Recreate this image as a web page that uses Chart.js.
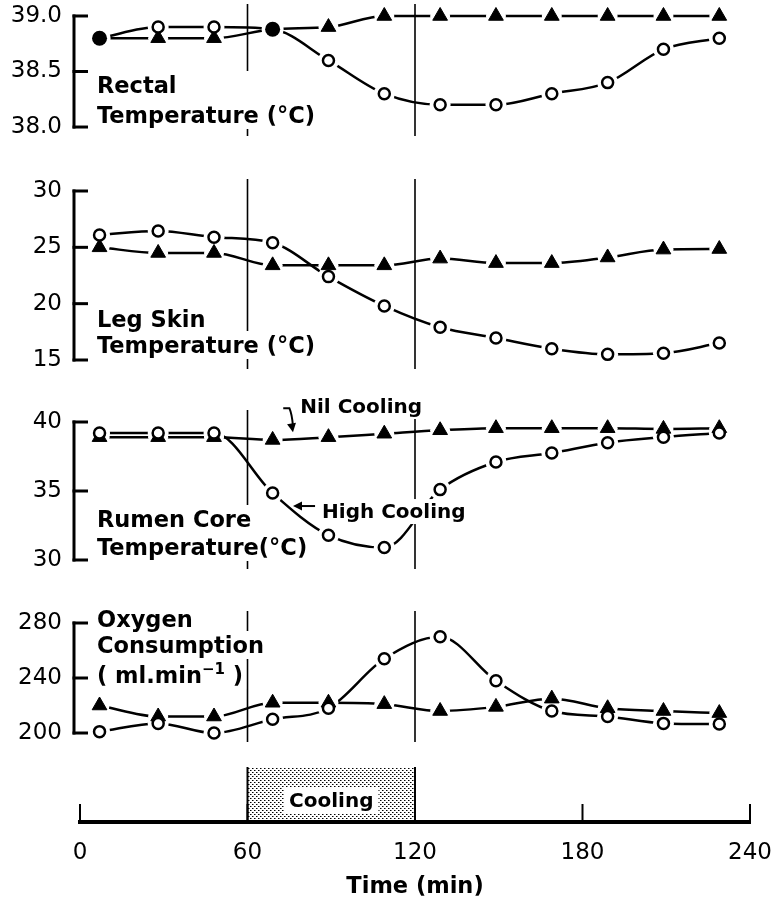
<!DOCTYPE html>
<html>
<head>
<meta charset="utf-8">
<title>Cooling responses</title>
<script src="https://cdn.jsdelivr.net/npm/chart.js@4.4.1/dist/chart.umd.min.js"></script>
<style>
html,body{margin:0;padding:0;background:#fff;}
canvas{display:block;}
</style>
</head>
<body>
<canvas id="c" width="778" height="901"></canvas>
<script>
// ---------------- data ----------------
const timeMin       = [7, 28, 48, 69, 89, 109, 129, 149, 169, 189, 209, 229];
const coolingPeriod = [60, 120];
const timeTicks     = ['0', '60', '120', '180', '240'];

const rectalNil   = [38.8, 38.8, 38.8, 38.88, 38.9, 39.0, 39.0, 39.0, 39.0, 39.0, 39.0, 39.0];
const rectalHigh  = [38.8, 38.9, 38.9, 38.88, 38.6, 38.3, 38.2, 38.2, 38.3, 38.4, 38.7, 38.8];
const rectalTicks = ['38.0', '38.5', '39.0'];

const legNil   = [25.0, 24.5, 24.5, 23.4, 23.4, 23.4, 24.0, 23.6, 23.6, 24.1, 24.8, 24.85];
const legHigh  = [26.1, 26.45, 25.9, 25.4, 22.4, 19.8, 17.9, 16.95, 16.0, 15.5, 15.6, 16.5];
const legTicks = ['15', '20', '25', '30'];

const rumenNil   = [38.9, 38.9, 38.9, 38.7, 38.9, 39.15, 39.4, 39.55, 39.55, 39.55, 39.5, 39.55];
const rumenHigh  = [39.2, 39.2, 39.2, 34.85, 31.8, 30.9, 35.1, 37.1, 37.75, 38.5, 38.9, 39.2];
const rumenTicks = ['30', '35', '40'];

const oxygenNil   = [220, 212, 212, 222, 222, 221, 216, 219, 225, 218, 216, 214.5];
const oxygenHigh  = [201, 207, 200, 210, 218, 254, 270, 238, 216, 212, 207, 206.5];
const oxygenTicks = ['200', '240', '280'];

// ---------------- layout / options ----------------
const FAM = 'DejaVu Sans';
const LABEL_SIZE = 22.5;
const fnt = (size, bold) => (bold ? 'bold ' : '') + size + 'px "' + FAM + '"';
Chart.defaults.font.family = FAM;
Chart.defaults.color = '#000';

const panels = [
  {id: 'yR', nil: rectalNil, high: rectalHigh, ticks: rectalTicks, min: 37.703, max: 39.144, weight: 160,
   labels: [['Rectal'], ['Temperature (°C)']], dy: [77, 107], block: true},
  {id: 'yL', nil: legNil, high: legHigh, ticks: legTicks, min: 12.781, max: 32.751, weight: 225,
   labels: [['Leg Skin'], ['Temperature (°C)']], dy: [136, 162]},
  {id: 'yU', nil: rumenNil, high: rumenHigh, ticks: rumenTicks, min: 28.188, max: 42.681, weight: 200,
   labels: [['Rumen Core'], ['Temperature(°C)']], dy: [105, 133]},
  {id: 'yO', nil: oxygenNil, high: oxygenHigh, ticks: oxygenTicks, min: 182.55, max: 307.64, weight: 172,
   labels: [['Oxygen'], ['Consumption'], ['( ml.min', '\u22121', ' )']], dy: [4, 30, 60]}
];

const pts = vals => timeMin.map((t, i) => ({x: t, y: vals[i]}));

function panelDatasets(p) {
  const same = p.nil.map((v, i) => Math.abs(v - p.high[i]) < 1e-9);
  const hi = pts(p.high), ni = pts(p.nil);
  const base = {yAxisID: p.id, xAxisID: 'x', clip: false, fill: false};
  return [
    // markers
    {...base, data: hi, order: 0, showLine: false, pointStyle: 'circle',
     pointRadius: same.map(s => s ? 7.5 : 5.5), pointBorderWidth: same.map(s => s ? 0 : 2.5),
     pointBackgroundColor: same.map(s => s ? '#000' : '#fff'), pointBorderColor: '#000'},
    {...base, data: ni, order: 0, showLine: false, pointStyle: 'triangle',
     pointRadius: same.map(s => s ? 0 : 8.5), pointBorderWidth: 1,
     pointBackgroundColor: '#000', pointBorderColor: '#000'},
    // white halos that break the lines around markers
    {...base, data: hi, order: 1, showLine: false, pointStyle: 'circle',
     pointRadius: same.map(s => s ? 11 : 10.5), pointBorderWidth: 0, pointBackgroundColor: '#fff'},
    {...base, data: ni, order: 1, showLine: false, pointStyle: 'circle',
     pointRadius: same.map(s => s ? 0 : 10), pointBorderWidth: 0, pointBackgroundColor: '#fff'},
    // curves
    {...base, data: hi, order: 2, pointRadius: 0, borderColor: '#000', borderWidth: 2.5,
     cubicInterpolationMode: 'monotone'},
    {...base, data: ni, order: 2, pointRadius: 0, borderColor: '#000', borderWidth: 2.5,
     cubicInterpolationMode: 'monotone'}
  ];
}

const canvas = document.getElementById('c');
const ctx = canvas.getContext('2d');

// stipple pattern for the cooling period bar
const pc = document.createElement('canvas');
pc.width = 4; pc.height = 4;
const pctx = pc.getContext('2d');
pctx.fillStyle = '#000';
pctx.fillRect(0, 0, 1, 1);
pctx.fillRect(2, 2, 1, 1);
pctx.fillStyle = 'rgba(0,0,0,0.5)';
pctx.fillRect(1, 0, 1, 1);
pctx.fillRect(3, 2, 1, 1);
const stipple = ctx.createPattern(pc, 'repeat');

const datasets = [];
panels.forEach(p => datasets.push(...panelDatasets(p)));
datasets.push({
  data: coolingPeriod.map(t => ({x: t, y: 1})), yAxisID: 'yC', xAxisID: 'x', order: 3,
  borderWidth: 0, pointRadius: 0, fill: 'origin', backgroundColor: stipple, tension: 0, clip: false
});

function yAxis(id, min, max, weight, tickLabels) {
  return {
    type: 'linear', position: 'left', stack: 'panels', stackWeight: weight, min: min, max: max,
    grid: {display: false, drawTicks: false}, border: {display: false},
    afterBuildTicks: s => { s.ticks = (tickLabels || []).map(v => ({value: Number(v)})); },
    ticks: {display: !!tickLabels, font: {family: FAM, size: 23}, color: '#000', padding: 18, autoSkip: false,
            callback: v => { const l = (tickLabels || []).find(t => Number(t) === v); return l === undefined ? '' : l; }},
    afterFit: s => { s.width = 80; s.paddingTop = 0; s.paddingBottom = 0; }
  };
}

// left boxes in a stack are placed top-down from the last defined one
const scales = {
  x: {
    type: 'linear', position: 'bottom', min: 0, max: 240,
    grid: {display: false, drawTicks: false}, border: {display: true, width: 4, color: '#000'},
    afterBuildTicks: s => { s.ticks = timeTicks.map(v => ({value: Number(v)})); },
    ticks: {font: {family: FAM, size: 23}, color: '#000', padding: 17, maxRotation: 0, autoSkip: false,
            callback: v => { const l = timeTicks.find(t => Number(t) === v); return l === undefined ? '' : l; }},
    title: {display: true, text: 'Time (min)', color: '#000', font: {family: FAM, size: 22.5, weight: 'bold'},
            padding: {top: 4, bottom: 0}},
    afterFit: s => { s.height = 79; s.paddingLeft = 0; s.paddingRight = 0; }
  },
  yC: yAxis('yC', 0, 1.204, 65, null)
};
[...panels].reverse().forEach(p => { scales[p.id] = yAxis(p.id, p.min, p.max, p.weight, p.ticks); });

function partsWidth(c, parts) {
  let w = 0;
  parts.forEach((t, i) => { c.font = i % 2 ? fnt(15, true) : fnt(LABEL_SIZE, true); w += c.measureText(t).width; });
  return w;
}
function drawParts(c, parts, x, y) {
  parts.forEach((t, i) => {
    c.font = i % 2 ? fnt(15, true) : fnt(LABEL_SIZE, true);
    c.fillText(t, x, i % 2 ? y - 9 : y);
    x += c.measureText(t).width;
  });
}
function arrowHead(c, x, y, ang, len, half) {
  c.save(); c.translate(x, y); c.rotate(ang);
  c.beginPath(); c.moveTo(0, 0); c.lineTo(-len, -half); c.lineTo(-len, half); c.closePath(); c.fill();
  c.restore();
}
function textBox(c, text, x, base, size) {
  c.font = fnt(size, true);
  const w = c.measureText(text).width;
  c.fillStyle = '#fff';
  c.fillRect(x - 3, base - size + 1, w + 6, size + 5);
  c.fillStyle = '#000';
  c.fillText(text, x, base);
}

const decor = {
  id: 'decor',
  beforeDatasetsDraw(chart) {
    const {ctx: c, scales: sc} = chart;
    const xs = sc.x;
    c.save();
    c.strokeStyle = '#000';
    c.lineWidth = 1.6;
    for (const p of panels) {
      const s = sc[p.id];
      const v = p.ticks.map(Number);
      const y1 = s.getPixelForValue(Math.max(...v)) - 12;
      const y2 = s.getPixelForValue(Math.min(...v)) + 9;
      for (const t of coolingPeriod) {
        const x = xs.getPixelForValue(t);
        c.beginPath(); c.moveTo(x, y1); c.lineTo(x, y2); c.stroke();
      }
    }
    c.restore();
  },
  afterDatasetsDraw(chart) {
    const {ctx: c, scales: sc, chartArea: ca} = chart;
    const xs = sc.x;
    c.save();
    c.fillStyle = '#000'; c.strokeStyle = '#000'; c.lineCap = 'butt';

    // axis brackets
    for (const p of panels) {
      const s = sc[p.id];
      const v = p.ticks.map(Number);
      const bx = ca.left - 6;
      const yTop = s.getPixelForValue(Math.max(...v));
      const yBot = s.getPixelForValue(Math.min(...v));
      c.lineWidth = 3;
      c.beginPath(); c.moveTo(bx, yTop - 1.5); c.lineTo(bx, yBot + 1.5); c.stroke();
      for (const val of v) {
        const y = s.getPixelForValue(val);
        c.beginPath(); c.moveTo(bx - 1.5, y); c.lineTo(bx + 14, y); c.stroke();
      }
    }

    // panel titles with white backing (they interrupt the 60-min line)
    c.textAlign = 'left'; c.textBaseline = 'alphabetic';
    for (const p of panels) {
      const s = sc[p.id];
      const yRef = s.getPixelForValue(Math.max(...p.ticks.map(Number)));
      const x0 = ca.left + 17;
      const lines = p.labels.map((parts, i) => ({parts, base: yRef + p.dy[i], w: partsWidth(c, parts)}));
      c.fillStyle = '#fff';
      if (p.block) {
        const wmax = Math.max(...lines.map(l => l.w));
        const top = lines[0].base - 22, bot = lines[lines.length - 1].base + 6;
        c.fillRect(x0 - 3, top, wmax + 6, bot - top);
      } else {
        lines.forEach(l => c.fillRect(x0 - 3, l.base - 22, l.w + 6, 28));
      }
      c.fillStyle = '#000';
      lines.forEach(l => drawParts(c, l.parts, x0, l.base));
    }

    // "Nil Cooling" / "High Cooling" annotations on the rumen panel
    const sU = sc.yU;
    textBox(c, 'Nil Cooling', xs.getPixelForValue(78.9), sU.getPixelForValue(40.65), 20);
    textBox(c, 'High Cooling', xs.getPixelForValue(86.7), sU.getPixelForValue(33.04), 20);
    c.lineWidth = 2;
    const n1 = [xs.getPixelForValue(72.8), sU.getPixelForValue(41.0)];
    const n2 = [xs.getPixelForValue(75.0), sU.getPixelForValue(41.0)];
    const n3 = [xs.getPixelForValue(76.3), sU.getPixelForValue(39.25)];
    c.beginPath(); c.moveTo(n1[0], n1[1]); c.lineTo(n2[0], n2[1]);
    c.quadraticCurveTo(n3[0] - 1, n2[1] + 6, n3[0], n3[1] - 6); c.stroke();
    arrowHead(c, n3[0], n3[1], Math.atan2(6, 1), 9, 4.5);
    const h1 = [xs.getPixelForValue(84.2), sU.getPixelForValue(33.91)];
    const h2 = [xs.getPixelForValue(76.3), sU.getPixelForValue(33.91)];
    c.beginPath(); c.moveTo(h1[0], h1[1]); c.lineTo(h2[0] + 6, h2[1]); c.stroke();
    arrowHead(c, h2[0], h2[1], Math.PI, 9, 4.5);

    // cooling period bar edges and label
    const yC = sc.yC;
    c.lineWidth = 2;
    for (const t of coolingPeriod) {
      const x = xs.getPixelForValue(t);
      c.beginPath(); c.moveTo(x, yC.getPixelForValue(1) - 1); c.lineTo(x, ca.bottom); c.stroke();
    }
    c.font = fnt(20, true);
    const lab = 'Cooling';
    const lw = c.measureText(lab).width;
    const cx = xs.getPixelForValue((coolingPeriod[0] + coolingPeriod[1]) / 2);
    const cy = yC.getPixelForValue(0.407);
    c.fillStyle = '#fff';
    c.fillRect(cx - lw / 2 - 5, cy - 13, lw + 10, 26);
    c.fillStyle = '#000';
    c.textAlign = 'center';
    c.fillText(lab, cx, cy + 7);

    // upward tick marks on the time axis
    c.lineWidth = 2;
    for (const t of timeTicks) {
      const x = xs.getPixelForValue(Number(t));
      c.beginPath(); c.moveTo(x, ca.bottom); c.lineTo(x, ca.bottom - 18); c.stroke();
    }
    c.restore();
  }
};

new Chart(ctx, {
  type: 'line',
  data: {datasets},
  options: {
    responsive: false, maintainAspectRatio: false, animation: false, devicePixelRatio: 1,
    events: [],
    layout: {autoPadding: false, padding: {top: 0, left: 0, right: 28, bottom: 0}},
    plugins: {legend: {display: false}, tooltip: {enabled: false}, title: {display: false}},
    scales
  },
  plugins: [decor]
});
</script>
</body>
</html>
